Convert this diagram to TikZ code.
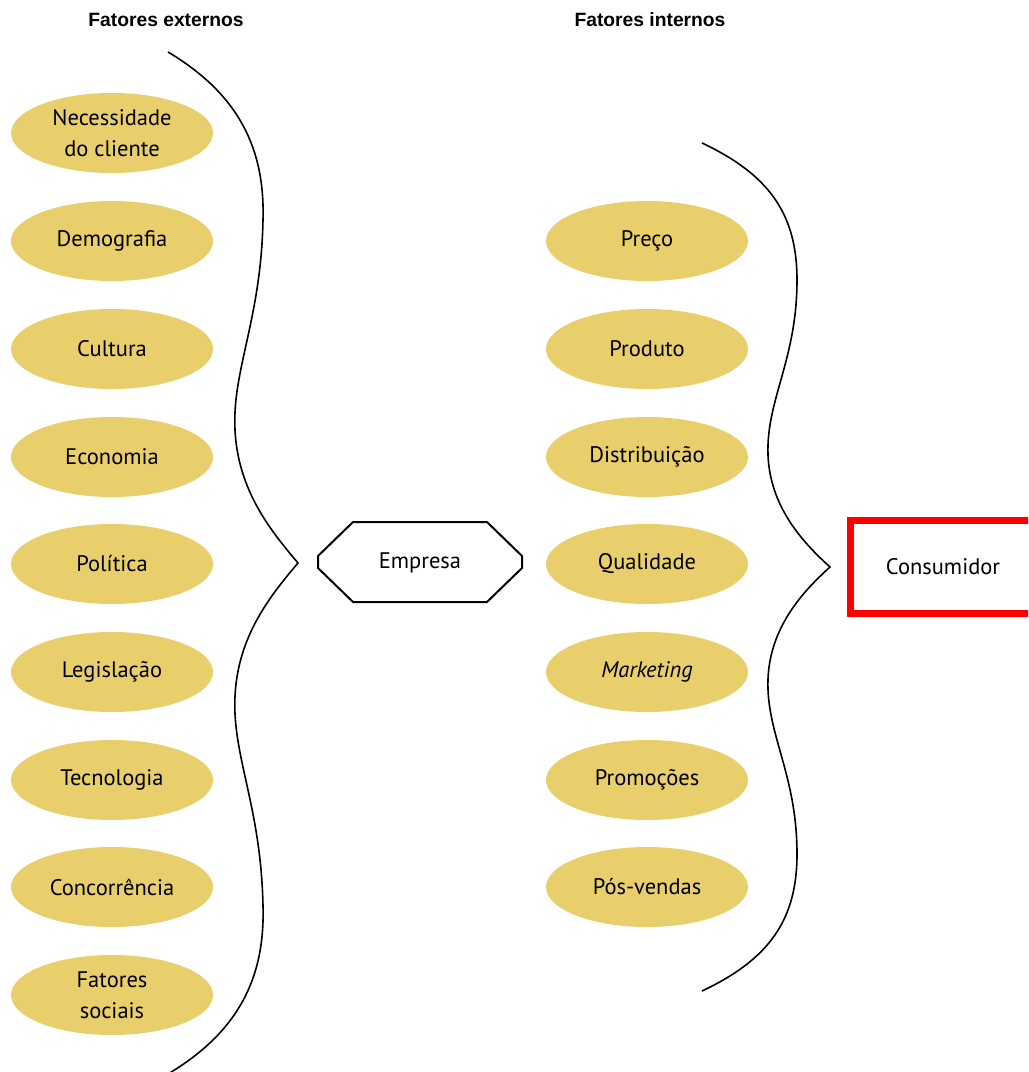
\documentclass[tikz,border=0pt]{standalone}
\usepackage{fontspec}
\setmainfont{PT Sans}
\newfontfamily\titlefont{Liberation Sans}
\usetikzlibrary{shapes.geometric}
\definecolor{ochre}{RGB}{233,207,107}
\begin{document}
\begin{tikzpicture}[x=0.025cm,y=-0.025cm,
    fac/.style={ellipse,fill=ochre,minimum width=5.05cm,minimum height=2cm,
      inner sep=0pt,align=center,font=\fontsize{16}{22}\selectfont},
    tit/.style={font=\titlefont\bfseries\fontsize{13.7}{16}\selectfont}]
    \useasboundingbox (0,0) rectangle (1028,1072);
    \node[tit] (Te) at (166,20) {Fatores externos};
    \node[tit] (Ti) at (650,20) {Fatores internos};
    % fatores externos
    \node[fac] (E1) at (112,133) {Necessidade\\do cliente};
    \node[fac] (E2) at (112,241) {Demografia};
    \node[fac] (E3) at (112,349) {Cultura};
    \node[fac] (E4) at (112,457) {Economia};
    \node[fac] (E5) at (112,564) {Política};
    \node[fac] (E6) at (112,672) {Legislação};
    \node[fac] (E7) at (112,780) {Tecnologia};
    \node[fac] (E8) at (112,887) {Concorrência};
    \node[fac] (E9) at (112,995) {Fatores\\sociais};
    % fatores internos
    \node[fac] (I1) at (647,241) {Preço};
    \node[fac] (I2) at (647,349) {Produto};
    \node[fac] (I3) at (647,457) {Distribuição};
    \node[fac] (I4) at (647,564) {Qualidade};
    \node[fac] (I5) at (647,672) {\itshape Marketing};
    \node[fac] (I6) at (647,780) {Promoções};
    \node[fac] (I7) at (647,887) {Pós-vendas};
    % chaves
    \coordinate (Lt) at (298,563);
    \coordinate (Rt) at (830,567);
    \draw[line width=0.04cm] (168,52)
    .. controls (240,95) and (265,150) .. (263,220)
    .. controls (261,320) and (232,370) .. (235,430)
    .. controls (238,490) and (270,530) .. (Lt)
    .. controls (270,596) and (238,636) .. (235,696)
    .. controls (232,756) and (261,806) .. (263,906)
    .. controls (265,976) and (240,1031) .. (168,1074);
    \draw[line width=0.04cm] (702,143)
    .. controls (770,175) and (797,215) .. (797,280)
    .. controls (797,360) and (766,400) .. (768,455)
    .. controls (770,505) and (800,540) .. (Rt)
    .. controls (800,594) and (770,629) .. (768,679)
    .. controls (766,734) and (797,774) .. (797,854)
    .. controls (797,919) and (770,959) .. (702,991);
    % empresa
    \node[font=\fontsize{16}{22}\selectfont] (Emp) at (420,563) {Empresa};
    \draw[line width=0.05cm] (318,556) -- (353,522) -- (487,522) -- (522,556)
      -- (522,568) -- (487,602) -- (353,602) -- (318,568) -- cycle;
    % consumidor
    \begin{scope}
    \clip (0,0) rectangle (1028,1072);
    \node[draw=red,line width=0.175cm,minimum width=4.625cm,minimum height=2.325cm,
      font=\fontsize{16}{22}\selectfont] (Con) at (943,567) {Consumidor};
    \end{scope}
\end{tikzpicture}
\end{document}
